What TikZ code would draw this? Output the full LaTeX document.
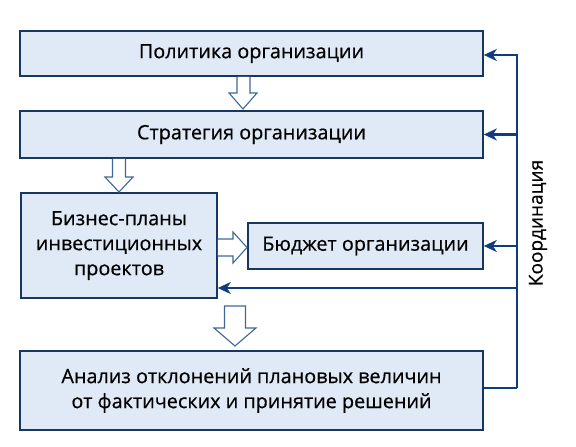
\documentclass[tikz,border=0pt]{standalone}
\usepackage{fontspec}
\setmainfont[FakeBold=0.5]{Open Sans}
\usetikzlibrary{arrows.meta,calc}
\definecolor{boxfill}{HTML}{DFEAF6}
\definecolor{boxline}{HTML}{17375E}
\definecolor{connline}{HTML}{0E3C7E}
\definecolor{hollow}{HTML}{3F679A}
\tikzset{
  box/.style={draw=boxline, line width=1.6pt, fill=boxfill, inner sep=0pt, align=center, font=\fontsize{19.8}{25}\selectfont},
  conn/.style={draw=connline, line width=2.2pt},
  connarr/.style={conn, -{Stealth[length=13pt,width=12pt,inset=4pt]}},
  hollowarrow/.style={draw=hollow, line width=1.1pt, fill=white, line join=miter}
}
\begin{document}
\begin{tikzpicture}[x=1pt,y=-1pt]
\useasboundingbox (0,0) rectangle (576,447);
% boxes
\node[box, minimum width=463pt, minimum height=45pt] (b1) at (251.5,53.5) {Политика организации};
\node[box, minimum width=463pt, minimum height=47pt] (b2) at (251.5,134.5) {Стратегия организации};
\node[box, minimum width=196pt, minimum height=105pt] (b3) at (119,245.5) {Бизнес-планы\\инвестиционных\\проектов};
\node[box, minimum width=235pt, minimum height=46pt] (b4) at (365.5,246) {Бюджет организации};
\node[box, minimum width=463pt, minimum height=79pt] (b5) at (251.5,390.5) {Анализ отклонений плановых величин\\от фактических и принятие решений};
% hollow arrows
\draw[hollowarrow] (237,76.8) -- (237,93) -- (229,93) -- (243,109) -- (257,93) -- (250,93) -- (250,76.8);
\draw[hollowarrow] (112.5,158.8) -- (112.5,177) -- (105,177) -- (119,192) -- (133,177) -- (125.5,177) -- (125.5,158.8);
\draw[hollowarrow] (217.8,239) -- (233,239) -- (233,232) -- (247,247.5) -- (233,263) -- (233,256) -- (217.8,256);
\draw[hollowarrow] (224.5,306) -- (224.5,328) -- (214,328) -- (235,346) -- (256,328) -- (245.5,328) -- (245.5,306) -- cycle;
% coordination connectors
\coordinate (c5) at (517,388);
\coordinate (c3) at (517,288);
\draw[conn] (b5.east |- c5) -- (c5);
\draw[connarr] (c5) |- ($(b1.east)+(0,1.5)$);
\draw[connarr] (b2.east -| c5) -- (b2.east);
\draw[connarr] (b4.east -| c5) -- (b4.east);
\draw[connarr] (c3) -- (b3.east |- c3);
\node[rotate=90, font=\fontsize{19}{22}\selectfont, inner sep=0pt] (lab) at (538,223) {Координация};
\end{tikzpicture}
\end{document}
